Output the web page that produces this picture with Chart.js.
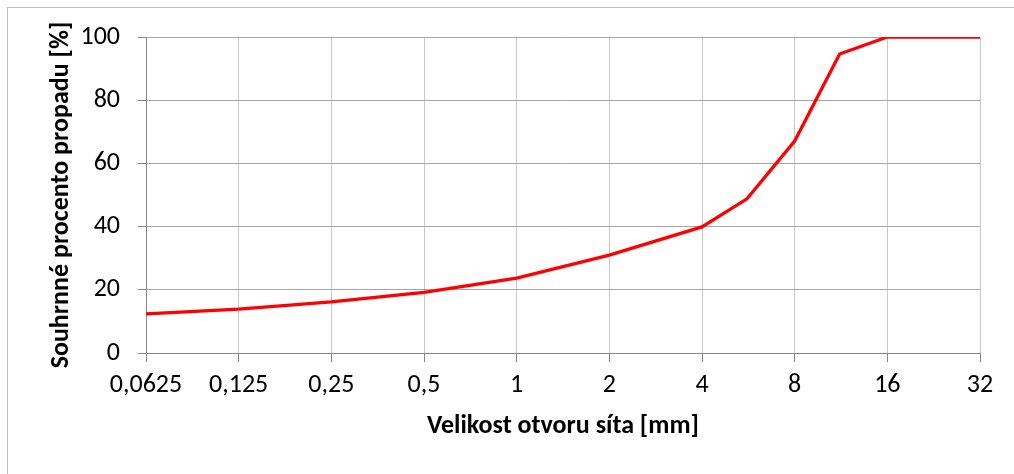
<!DOCTYPE html>
<html lang="cs">
<head>
  <meta charset="UTF-8" />
  <title>Čára zrnitosti</title>
  <script src="https://cdn.jsdelivr.net/npm/chart.js"></script>
  <style>
    html, body {
      margin: 0;
      padding: 0;
      background: #ffffff;
      overflow: hidden;
    }

    .wrap {
      position: relative;
      width: 1014px;
      height: 474px;
    }

    .frame {
      position: absolute;
      left: 7px;
      top: 7px;
      width: 1100px;
      height: 600px;
      border: 1px solid #bfbfbf;
    }

    canvas {
      position: absolute;
      left: 0;
      top: 0;
    }
  </style>
</head>
<body>
  <div class="wrap">
    <div class="frame"></div>
    <canvas id="grading" width="1014" height="474"></canvas>
  </div>

  <script>
    // sieve sizes [mm] and cumulative passing [%]
    const sieveSizes = [0.0625, 0.125, 0.25, 0.5, 1, 2, 4, 5.6, 8, 11.2, 16, 22.4, 32];
    const passing = [12.4, 13.9, 16.2, 19.2, 23.7, 31.0, 39.9, 48.8, 67.1, 94.6, 100, 100, 100];

    const xTicks = [0.0625, 0.125, 0.25, 0.5, 1, 2, 4, 8, 16, 32];
    const yTicks = [0, 20, 40, 60, 80, 100];

    const xTitle = 'Velikost otvoru síta [mm]';
    const yTitle = 'Souhrnné procento propadu [%]';

    const fontFamily = "Carlito, Calibri, Lato, 'Open Sans', sans-serif";

    const points = sieveSizes.map((s, i) => ({ x: s, y: passing[i] }));

    new Chart(document.getElementById('grading').getContext('2d'), {
      type: 'line',
      data: {
        datasets: [{
          data: points,
          borderColor: '#ff0000',
          borderWidth: 3.3,
          pointRadius: 0,
          tension: 0,
          fill: false
        }]
      },
      options: {
        responsive: false,
        animation: false,
        layout: { padding: { top: 37, right: 34, left: 0, bottom: 0 } },
        plugins: {
          legend: { display: false },
          tooltip: { enabled: false }
        },
        scales: {
          x: {
            type: 'logarithmic',
            min: xTicks[0],
            max: xTicks[xTicks.length - 1],
            afterBuildTicks: (scale) => {
              scale.ticks = xTicks.map(v => ({ value: v }));
            },
            afterFit: (scale) => { scale.height = 121; },
            grid: {
              color: '#c8c8c8',
              lineWidth: 1,
              tickLength: 9,
              tickColor: '#868686'
            },
            border: { color: '#868686', width: 1 },
            ticks: {
              color: '#000000',
              padding: 8,
              maxRotation: 0,
              autoSkip: false,
              font: { family: fontFamily, size: 26 },
              callback: (v) => String(v).replace('.', ',')
            },
            title: {
              display: true,
              text: xTitle,
              color: '#000000',
              font: { family: fontFamily, size: 26, weight: 'bold' },
              padding: { top: 0, bottom: 32 }
            }
          },
          y: {
            min: yTicks[0],
            max: yTicks[yTicks.length - 1],
            afterBuildTicks: (scale) => {
              scale.ticks = yTicks.map(v => ({ value: v }));
            },
            afterFit: (scale) => { scale.width = 146; },
            grid: {
              color: '#a6a6a6',
              lineWidth: 1,
              tickLength: 8,
              tickColor: '#868686'
            },
            border: { color: '#868686', width: 1 },
            ticks: {
              color: '#000000',
              padding: 18,
              font: { family: fontFamily, size: 26 }
            },
            title: {
              display: true,
              text: yTitle,
              color: '#000000',
              font: { family: fontFamily, size: 26, weight: 'bold' },
              padding: { top: 46, bottom: 0 }
            }
          }
        }
      }
    });
  </script>
</body>
</html>
